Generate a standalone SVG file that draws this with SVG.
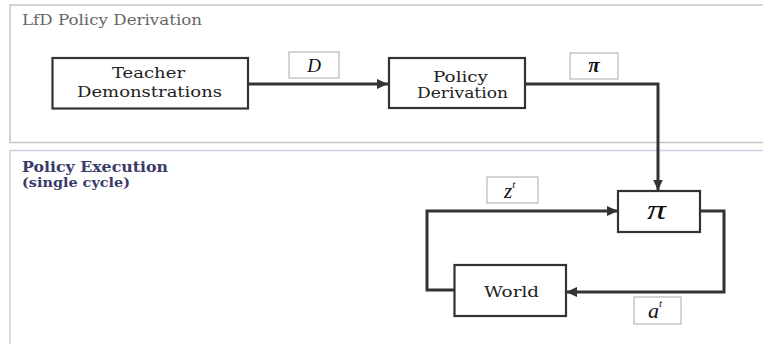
<svg xmlns="http://www.w3.org/2000/svg" width="763" height="344" viewBox="0 0 763 344">
  <defs>
    <marker id="arr" markerUnits="userSpaceOnUse" markerWidth="12" markerHeight="10" refX="11" refY="5" orient="auto">
      <path d="M0,0 L11,5 L0,10 Z" fill="#333"/>
    </marker>
    <style>
      .panel1 { fill: #ffffff; stroke: #c4c4c4; stroke-width: 1.5; }
      .panel2 { fill: #ffffff; stroke: #cdcfe0; stroke-width: 1.5; }
      .node { fill: #ffffff; stroke: #333333; stroke-width: 2.2; }
      .lbl { fill: #ffffff; stroke: #a8a8a8; stroke-width: 1; }
      .ntext { font-family: "DejaVu Serif", "Liberation Serif", serif; font-size: 14.5px; fill: #222; }
      .math { font-family: "Liberation Serif", "Times New Roman", serif; font-style: italic; fill: #111; }
      .conn { fill: none; stroke: #333333; stroke-width: 3; }
      .t1 { font-family: "DejaVu Serif", "Liberation Serif", serif; font-size: 14px; fill: #666; }
      .t2 { font-family: "DejaVu Serif", "Liberation Serif", serif; font-size: 14px; fill: #3a3b6a; font-weight: bold; }
    </style>
  </defs>
  <rect width="763" height="344" fill="#ffffff"/>
  <g id="panel-derivation">
    <rect class="panel1" x="10" y="5" width="800" height="137.5"/>
    <text class="t1" x="22" y="25" textLength="180" lengthAdjust="spacingAndGlyphs">LfD Policy Derivation</text>
  </g>
  <g id="panel-execution">
    <rect class="panel2" x="10" y="150.5" width="800" height="220"/>
    <text class="t2" x="22" y="171.5" textLength="146" lengthAdjust="spacingAndGlyphs">Policy Execution</text>
    <text class="t2" x="22" y="186.5" textLength="108" lengthAdjust="spacingAndGlyphs" style="font-size:13px">(single cycle)</text>
  </g>
  <g id="connectors">
    <path class="conn" d="M248,84 H388" marker-end="url(#arr)"/>
    <path class="conn" d="M525,84 H658 V190.5" marker-end="url(#arr)"/>
    <path class="conn" d="M454,290 H427 V211 H618" marker-end="url(#arr)"/>
    <path class="conn" d="M700,211 H724 V292 H566" marker-end="url(#arr)"/>
  </g>
  <g id="teacher">
    <rect class="node" x="52.5" y="58" width="195.5" height="50.5"/>
    <text class="ntext" x="112" y="78" textLength="73" lengthAdjust="spacingAndGlyphs">Teacher</text>
    <text class="ntext" x="77" y="96.5" textLength="145" lengthAdjust="spacingAndGlyphs">Demonstrations</text>
  </g>
  <g id="policy-derivation">
    <rect class="node" x="389" y="58" width="136" height="50"/>
    <text class="ntext" x="433" y="81.5" textLength="55" lengthAdjust="spacingAndGlyphs">Policy</text>
    <text class="ntext" x="417" y="98" textLength="91" lengthAdjust="spacingAndGlyphs">Derivation</text>
  </g>
  <g id="policy">
    <rect class="node" x="618" y="191" width="82" height="41"/>
    <text class="math" x="647" y="219" font-size="28" textLength="19" lengthAdjust="spacingAndGlyphs">π</text>
  </g>
  <g id="world">
    <rect class="node" x="454.5" y="265" width="111.5" height="51"/>
    <text class="ntext" x="484" y="296.5" textLength="55" lengthAdjust="spacingAndGlyphs">World</text>
  </g>
  <g id="label-D">
    <rect class="lbl" x="289" y="52" width="50" height="26"/>
    <text class="math" x="314" y="72" font-size="19" text-anchor="middle">D</text>
  </g>
  <g id="label-pi">
    <rect class="lbl" x="570" y="53" width="48" height="26"/>
    <text class="math" x="594" y="71.5" font-size="21" font-weight="bold" text-anchor="middle">π</text>
  </g>
  <g id="label-z">
    <rect class="lbl" x="487" y="177" width="51" height="26"/>
    <text class="math" x="504" y="198" font-size="21">z<tspan font-size="11" dy="-10">t</tspan></text>
  </g>
  <g id="label-a">
    <rect class="lbl" x="634" y="297" width="47" height="27"/>
    <text class="math" x="648" y="318" font-size="22">a<tspan font-size="11" dy="-11">t</tspan></text>
  </g>
</svg>
